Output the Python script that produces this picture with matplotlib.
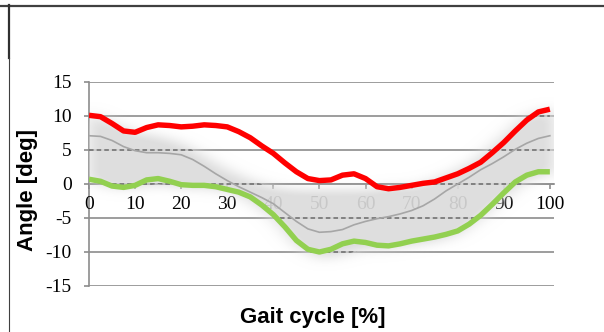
import matplotlib.pyplot as plt
import numpy as np
from matplotlib.lines import Line2D

# gait cycle sample points
pct = np.arange(0, 100.1, 2.5)

# measured curves (deg)
upper_curve = [10.1, 9.9, 8.9, 7.8, 7.6, 8.3, 8.7, 8.6, 8.4, 8.5, 8.7, 8.6, 8.4, 7.7,
               6.8, 5.6, 4.5, 3.1, 1.8, 0.8, 0.5, 0.6, 1.3, 1.5, 0.8, -0.4, -0.7,
               -0.5, -0.2, 0.1, 0.3, 0.9, 1.5, 2.3, 3.2, 4.6, 6.1, 7.8, 9.4, 10.6, 11.0]
mean_curve = [7.1, 7.0, 6.4, 5.5, 4.9, 4.6, 4.6, 4.5, 4.3, 3.6, 2.6, 1.5, 0.5, -0.4,
              -1.2, -2.0, -2.9, -4.2, -5.5, -6.6, -7.1, -7.0, -6.7, -6.0, -5.5, -5.1,
              -4.8, -4.4, -3.9, -3.2, -2.2, -1.0, 0.0, 1.0, 2.1, 3.0, 4.0, 5.1, 6.0,
              6.7, 7.1]
lower_curve = [0.7, 0.4, -0.3, -0.5, -0.2, 0.6, 0.8, 0.4, -0.1, -0.2, -0.2, -0.4, -0.8,
               -1.2, -1.9, -3.1, -4.5, -6.3, -8.3, -9.6, -10.0, -9.6, -8.8, -8.4, -8.6,
               -9.0, -9.1, -8.8, -8.4, -8.1, -7.8, -7.4, -6.9, -5.9, -4.6, -3.0, -1.3,
               0.3, 1.3, 1.8, 1.8]

# normal range band
band_x = np.arange(0, 101, 5)
band_hi = [10.5, 9.0, 7.5, 7.0, 6.0, 4.0, 2.0, 0.5, -0.5, -1.0, -1.0, -1.0, -1.0,
           -0.5, -0.5, 0.5, 2.0, 4.0, 7.0, 10.0, 11.0]
band_lo = [0.5, -0.5, -0.5, 0.0, -0.5, -0.5, -1.0, -2.5, -5.0, -9.0, -11.0, -10.5,
           -9.5, -9.5, -9.0, -8.5, -7.5, -5.0, -2.0, 0.5, 1.5]

yticks = [-15, -10, -5, 0, 5, 10, 15]
xticks = list(range(0, 101, 10))

W, H = 604, 332
fig = plt.figure(figsize=(W / 100, H / 100), dpi=100)
ax = fig.add_axes([89 / W, (H - 286) / H, (554 - 89) / W, (286 - 82) / H])
ax.set_xlim(0, 100.9)
ax.set_ylim(-15, 15)

grid_c = '#8c8c8c'
for v in yticks:
    ax.axhline(v, color=grid_c, lw=1.2, zorder=1)

# soft gray band
gx = np.linspace(0, 100.9, 404)
gy = np.linspace(-15, 15, 301)
GX, GY = np.meshgrid(gx, gy)
hi = np.interp(GX, band_x, band_hi)
lo = np.interp(GX, band_x, band_lo)
mask = ((GY <= hi) & (GY >= lo)).astype(float)

def gauss(n, s):
    k = np.exp(-0.5 * (np.arange(-n, n + 1) / s) ** 2)
    return k / k.sum()

ky = gauss(26, 8)
kx = gauss(24, 8)
mask = np.apply_along_axis(lambda c: np.convolve(c, ky, mode='same'), 0, mask)
mask = np.apply_along_axis(lambda r: np.convolve(r, kx, mode='same'), 1, mask)
img = np.zeros(mask.shape + (4,))
img[..., :3] = 0.86
img[..., 3] = np.clip(mask * 1.05, 0, 0.92)
ax.imshow(img, extent=[0, 100.9, -15, 15], origin='lower', aspect='auto',
          zorder=2, interpolation='bilinear')

# dashed gridlines inside the band
poly = ax.fill_between(band_x, band_lo, band_hi, facecolor='none', edgecolor='none')
for v in yticks:
    ln = ax.axhline(v, color='#6a6a6a', lw=1.1, ls=(0, (3, 2)), zorder=2.2)
    ln.set_clip_path(poly.get_paths()[0], ax.transData)

ax.plot(pct, mean_curve, color='#a6a6a6', lw=1.2, zorder=3, solid_joinstyle='round')
ax.plot(pct, upper_curve, color='#ff0000', lw=3.9, zorder=4,
        solid_capstyle='butt', solid_joinstyle='round')
ax.plot(pct, lower_curve, color='#92d050', lw=3.9, zorder=4,
        solid_capstyle='butt', solid_joinstyle='round')

for s in ['top', 'right']:
    ax.spines[s].set_visible(False)
ax.spines['bottom'].set_position(('data', 0))
for s in ['left', 'bottom']:
    ax.spines[s].set_color(grid_c)
    ax.spines[s].set_linewidth(1.2)
    ax.spines[s].set_zorder(1.5)

ax.set_xticks(xticks)
ax.set_yticks(yticks)
ax.set_xticklabels([str(t) for t in xticks], family='Liberation Serif', fontsize=14)
ax.set_yticklabels([str(t) for t in yticks], family='Liberation Serif', fontsize=14)
ax.tick_params(axis='x', direction='out', length=3.5, width=1.2, color=grid_c, pad=5)
ax.tick_params(axis='y', direction='out', length=3.5, width=1.2, color=grid_c, pad=9)
ax.patch.set_visible(False)

fig.text(28 / W, 1 - 190 / H, 'Angle [deg]', rotation=90, ha='center', va='center',
         family='Liberation Sans', fontweight='bold', fontsize=16)
fig.text(313 / W, 1 - 318 / H, 'Gait cycle [%]', ha='center', va='center',
         family='Liberation Sans', fontweight='bold', fontsize=16)

# frame lines around the slide box
fig.add_artist(Line2D([0, 1], [1 - 5.5 / H, 1 - 5.5 / H], color='#404040', lw=1.6,
                      transform=fig.transFigure))
fig.add_artist(Line2D([8.5 / W, 8.5 / W], [1 - 5 / H, 1 - 58 / H], color='#303030',
                      lw=1.6, transform=fig.transFigure))
fig.add_artist(Line2D([9 / W, 9 / W], [1 - 58 / H, 0], color='#404040', lw=0.8,
                      transform=fig.transFigure))

fig.savefig('out.png', dpi=100)
